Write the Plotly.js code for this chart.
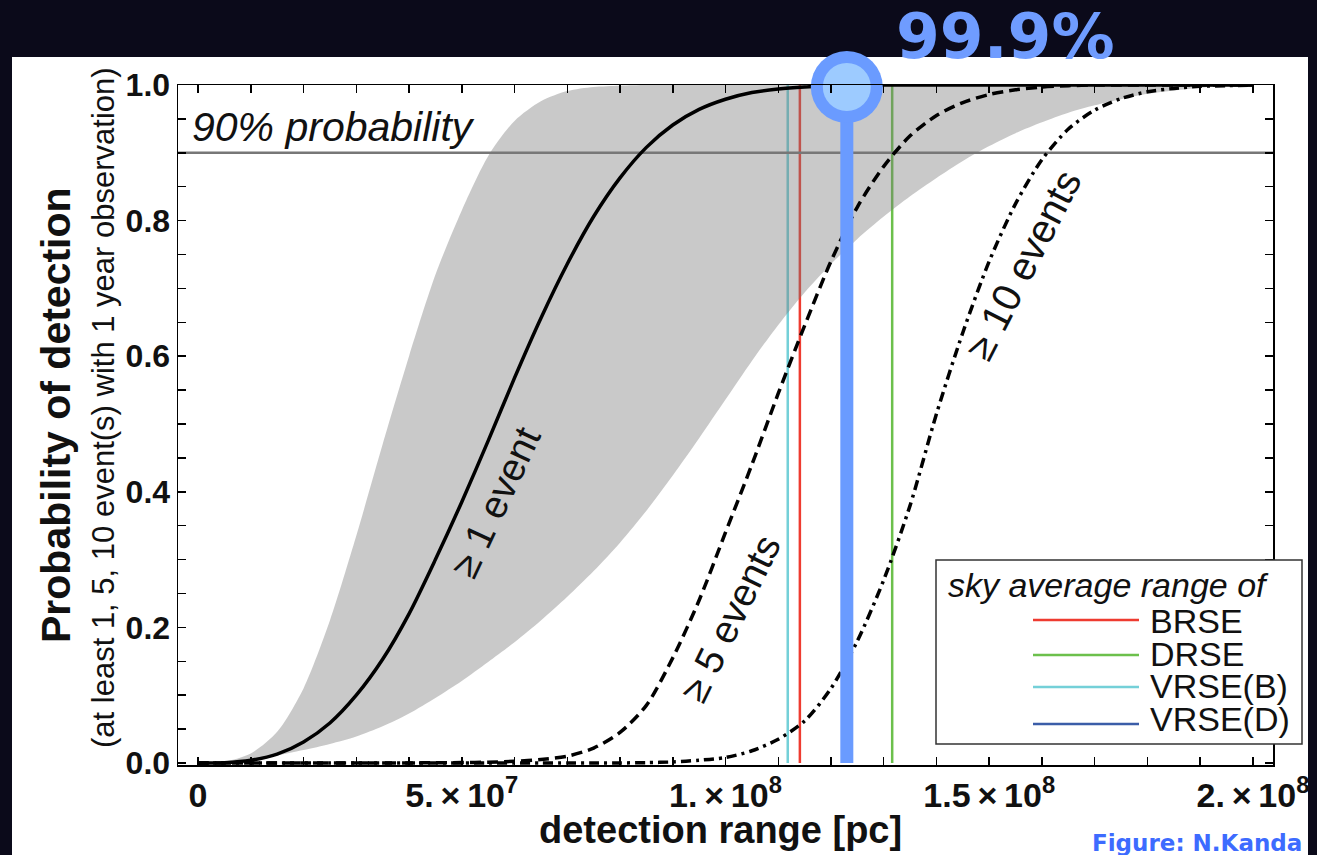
<!DOCTYPE html>
<html><head><meta charset="utf-8">
<script src="https://cdn.plot.ly/plotly-3.0.1.min.js"></script>
<style>html,body{margin:0;padding:0;background:#0b0a1a;}#chart{width:1317px;height:855px;}</style>
</head><body><div id="chart"></div>
<script>
// detection range in units of 1e8 pc
const rangeE8 = [0,0.05,0.1,0.15,0.2,0.25,0.3,0.35,0.4,0.45,0.5,0.55,0.6,0.65,0.7,0.75,0.8,0.85,0.9,0.95,
  1.0,1.05,1.1,1.15,1.2,1.25,1.3,1.35,1.4,1.45,1.5,1.55,1.6,1.65,1.7,1.75,1.8,1.85,1.9,1.95,2.0];
// probability of at least 1 event
const pAtLeast1 = [0,0.0005,0.004,0.013,0.031,0.059,0.10,0.153,0.22,0.30,0.385,0.475,0.568,0.656,0.736,0.806,0.863,0.908,0.941,0.964,
  0.979,0.989,0.994,0.997,0.999,1,1,1,1,1,1,1,1,1,1,1,1,1,1,1,1];
// probability of at least 5 events
const pAtLeast5 = [0,0,0,0,0,0,0,0,0,0.0003,0.0006,0.0012,0.0025,0.005,0.01,0.022,0.045,0.085,0.155,0.24,
  0.34,0.44,0.545,0.645,0.74,0.82,0.88,0.925,0.955,0.974,0.986,0.993,0.997,0.999,1,1,1,1,1,1,1];
// probability of at least 10 events
const pAtLeast10 = [0,0,0,0,0,0,0,0,0,0,0,0,0,0,0,0,0,0.0005,0.0015,0.004,
  0.008,0.018,0.035,0.062,0.11,0.18,0.27,0.38,0.515,0.635,0.74,0.825,0.89,0.935,0.963,0.98,0.99,0.995,0.998,0.999,1.0];
// uncertainty band of the >=1 event curve
const bandUpper = [0,0.002,0.014,0.046,0.11,0.21,0.335,0.47,0.60,0.72,0.815,0.895,0.947,0.976,0.991,0.997,0.999,1,1,1,
  1,1,1,1,1,1,1,1,1,1,1,1,1,1,1,1,1,1,1,1,1];
const bandLower = [0,0.0005,0.004,0.011,0.019,0.028,0.039,0.054,0.073,0.096,0.121,0.149,0.178,0.21,0.245,0.283,0.325,0.372,0.424,0.479,
  0.536,0.593,0.646,0.694,0.736,0.773,0.806,0.836,0.863,0.888,0.91,0.929,0.945,0.959,0.97,0.979,0.987,0.992,0.996,0.998,1.0];
// sky average ranges [pc]
const detectors = ['BRSE','DRSE','VRSE(B)','VRSE(D)'];
const detectorRange = [1.141e8, 1.316e8, 1.118e8, 1.23e8];
const detectorColor = ['#ee3b30','#6cc04c','#74d0d8','#3b5da8'];
const threshold90 = 0.9;
const highlightProb = 0.997;
const highlightLabel = '99.9%';
// tick labels
const xTickVals = [0,1e7,2e7,3e7,4e7,5e7,6e7,7e7,8e7,9e7,1e8,1.1e8,1.2e8,1.3e8,1.4e8,1.5e8,1.6e8,1.7e8,1.8e8,1.9e8,2e8];
const xTickText = ['0','','','','','5.\u2009×\u200910<sup>7</sup>','','','','','1.\u2009×\u200910<sup>8</sup>','','','','','1.5\u2009×\u200910<sup>8</sup>','','','','','2.\u2009×\u200910<sup>8</sup>'];
const yTickVals = [0,0.05,0.1,0.15,0.2,0.25,0.3,0.35,0.4,0.45,0.5,0.55,0.6,0.65,0.7,0.75,0.8,0.85,0.9,0.95,1.0];
const yTickText = ['0.0','','','','0.2','','','','0.4','','','','0.6','','','','0.8','','','','1.0'];

const xs = rangeE8.map(v => v * 1e8);
const XMIN = -3.8e6, XMAX = 2.038e8;

// pixel -> paper helpers (layout positions only)
const L = 178, R = 1273, T = 85, B = 765;
const px = x => (x - L) / (R - L);
const py = y => (B - y) / (B - T);

const FONT = '"Liberation Sans", Arial, Helvetica, sans-serif';
const traces = [];
// vertical detector lines (under the band)
[2,0,1,3].forEach(i => {
  traces.push({x:[detectorRange[i],detectorRange[i]], y:[0,1], mode:'lines', type:'scatter',
    line:{color:detectorColor[i], width:2.5}, hoverinfo:'skip', showlegend:false});
});
traces.push({x:xs, y:bandLower, mode:'lines', line:{width:0, color:'rgba(0,0,0,0)', shape:'spline', smoothing:0.8}, showlegend:false, hoverinfo:'skip'});
traces.push({x:xs, y:bandUpper, mode:'lines', fill:'tonexty', fillcolor:'rgba(120,120,120,0.40)', line:{width:0, color:'rgba(0,0,0,0)', shape:'spline', smoothing:0.8}, showlegend:false, hoverinfo:'skip'});
traces.push({x:[XMIN, XMAX], y:[threshold90, threshold90], mode:'lines', line:{color:'#777', width:2.5}, showlegend:false, hoverinfo:'skip'});
traces.push({x:xs, y:pAtLeast1, mode:'lines', line:{color:'#000', width:3.5, shape:'spline', smoothing:0.8}, showlegend:false});
traces.push({x:xs, y:pAtLeast5, mode:'lines', line:{color:'#000', width:3.5, dash:'11px,6px', shape:'spline', smoothing:0.8}, showlegend:false});
traces.push({x:xs, y:pAtLeast10, mode:'lines', line:{color:'#000', width:3.5, dash:'10px,5px,3px,5px', shape:'spline', smoothing:0.8}, showlegend:false});
// highlight of VRSE(D)
traces.push({x:[detectorRange[3],detectorRange[3]], y:[0,highlightProb], mode:'lines', line:{color:'#6a9bff', width:13}, showlegend:false, hoverinfo:'skip', cliponaxis:false});
traces.push({x:[detectorRange[3]], y:[highlightProb], mode:'markers', marker:{size:72, color:'#6a9bff', line:{width:0}}, showlegend:false, cliponaxis:false});
traces.push({x:[detectorRange[3]], y:[highlightProb], mode:'markers', marker:{size:48, color:'#9dcbff', line:{width:0}}, showlegend:false, cliponaxis:false});

const shapes = [
  {type:'rect', xref:'paper', yref:'paper', x0:px(12), x1:px(1308), y0:py(855), y1:py(57), fillcolor:'#ffffff', line:{width:0}, layer:'below'},
  {type:'rect', xref:'paper', yref:'paper', x0:px(936), x1:px(1302), y0:py(744), y1:py(560), fillcolor:'#ffffff', line:{width:1.5, color:'#333'}, layer:'above'}
];
const legY = [620, 655, 687, 724];
const legTextY = [621, 654, 686, 719];
const annotations = [];
detectors.forEach((d,i) => {
  shapes.push({type:'line', xref:'paper', yref:'paper', x0:px(1033), x1:px(1139), y0:py(legY[i]), y1:py(legY[i]), line:{color:detectorColor[i], width:2.5}, layer:'above'});
  annotations.push({xref:'paper', yref:'paper', x:px(1148), y:py(legTextY[i]), xanchor:'left', yanchor:'middle', showarrow:false, text:d, font:{family:FONT, size:34, color:'#111'}});
});
annotations.push({xref:'paper', yref:'paper', x:px(946), y:py(585), xanchor:'left', yanchor:'middle', showarrow:false, text:'<i>sky average range of</i>', font:{family:FONT, size:34, color:'#111'}});
annotations.push({xref:'paper', yref:'paper', x:px(190), y:py(127), xanchor:'left', yanchor:'middle', showarrow:false, text:'<i>90% probability</i>', font:{family:FONT, size:41, color:'#111'}});
annotations.push({xref:'paper', yref:'paper', x:px(495), y:py(502), xanchor:'center', yanchor:'middle', showarrow:false, textangle:-65, text:'≥ 1 event', font:{family:FONT, size:39, color:'#111'}});
annotations.push({xref:'paper', yref:'paper', x:px(730), y:py(618), xanchor:'center', yanchor:'middle', showarrow:false, textangle:-64, text:'≥ 5 events', font:{family:FONT, size:39, color:'#111'}});
annotations.push({xref:'paper', yref:'paper', x:px(1023), y:py(265), xanchor:'center', yanchor:'middle', showarrow:false, textangle:-63, text:'≥ 10 events', font:{family:FONT, size:40, color:'#111'}});
annotations.push({xref:'paper', yref:'paper', x:px(56), y:py(415), xanchor:'center', yanchor:'middle', showarrow:false, textangle:-90, text:'<b>Probability of detection</b>', font:{family:FONT, size:41, color:'#111'}});
annotations.push({xref:'paper', yref:'paper', x:px(103), y:py(408), xanchor:'center', yanchor:'middle', showarrow:false, textangle:-90, text:'(at least 1, 5, 10 event(s) with 1 year observation)', font:{family:FONT, size:31, color:'#111'}});
annotations.push({xref:'paper', yref:'paper', x:px(720), y:py(830), xanchor:'center', yanchor:'middle', showarrow:false, text:'<b>detection range [pc]</b>', font:{family:FONT, size:38, color:'#111'}});
annotations.push({xref:'paper', yref:'paper', x:px(1005), y:py(36), xanchor:'center', yanchor:'middle', showarrow:false, text:'<b>'+highlightLabel+'</b>', font:{family:'"DejaVu Sans", sans-serif', size:63, color:'#6f9cff'}});
annotations.push({xref:'paper', yref:'paper', x:px(1197), y:py(843), xanchor:'center', yanchor:'middle', showarrow:false, text:'<b>Figure: N.Kanda</b>', font:{family:'"DejaVu Sans", sans-serif', size:23, color:'#3d6bff'}});

const layout = {
  width:1317, height:855, autosize:false,
  margin:{l:L, r:1317-R, t:T, b:855-B, pad:0},
  paper_bgcolor:'#0b0a1a', plot_bgcolor:'rgba(0,0,0,0)',
  showlegend:false,
  xaxis:{range:[XMIN, XMAX], tickmode:'array', tickvals:xTickVals, ticktext:xTickText, ticks:'inside', ticklen:8, tickwidth:1.5, tickcolor:'#000',
    showline:true, linecolor:'#000', linewidth:1.5, mirror:'ticks', showgrid:false, zeroline:false,
    tickfont:{family:FONT, size:34, color:'#111', weight:'bold'}, ticklabelstandoff:0},
  yaxis:{range:[-0.003, 1.0], tickmode:'array', tickvals:yTickVals, ticktext:yTickText, ticks:'inside', ticklen:8, tickwidth:1.5, tickcolor:'#000',
    showline:true, linecolor:'#000', linewidth:1.5, mirror:'ticks', showgrid:false, zeroline:false,
    tickfont:{family:FONT, size:32, color:'#111', weight:'bold'}, ticklabelstandoff:0},
  shapes, annotations
};
Plotly.newPlot('chart', traces, layout, {staticPlot:true, displayModeBar:false});
</script></body></html>
